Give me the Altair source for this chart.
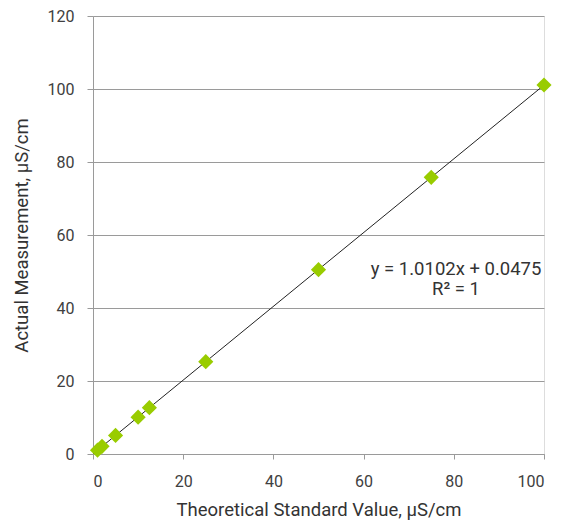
import altair as alt
import pandas as pd

theoretical = [1, 2, 5, 10, 12.5, 25, 50, 75, 100]
actual = [1.05, 2.1, 5.1, 10.1, 12.7, 25.3, 50.5, 75.8, 101.1]
eq_lines = ["y = 1.0102x + 0.0475", "R² = 1"]
eq_x = [80.5, 80.5]
eq_y = [50.7, 45.3]

df = pd.DataFrame({"x": theoretical, "y": actual})
ann = pd.DataFrame({"x": eq_x, "y": eq_y, "t": eq_lines})

FONT = "Roboto"
GRAY = "#9a9a9a"

xs = alt.Scale(domain=[0, 100], nice=False)
ys = alt.Scale(domain=[0, 120], nice=False)

xaxis = alt.Axis(values=[0, 20, 40, 60, 80, 100], grid=False, domainColor=GRAY,
                 tickColor=GRAY, tickSize=5, labelFontSize=16, labelColor="#404040",
                 labelFont=FONT, titleFont=FONT, titleFontSize=18.5, titleFontWeight="normal",
                 titleColor="#333333", titlePadding=11, labelPadding=14)
yaxis = alt.Axis(values=[0, 20, 40, 60, 80, 100, 120], grid=True, gridColor=GRAY,
                 domainColor=GRAY, tickColor=GRAY, tickSize=6, labelFontSize=16,
                 labelColor="#404040", labelFont=FONT, titleFont=FONT, titleFontSize=18.5,
                 titleFontWeight="normal", titleColor="#333333", titlePadding=16, labelPadding=13)

trend = alt.Chart(df).transform_regression("x", "y", extent=[0, 100]).mark_line(
    color="#222222", strokeWidth=1
).encode(
    x=alt.X("x:Q", scale=xs, axis=xaxis, title="Theoretical Standard Value, µS/cm"),
    y=alt.Y("y:Q", scale=ys, axis=yaxis, title="Actual Measurement, µS/cm"),
)

pts = alt.Chart(df).mark_point(shape="diamond", filled=True, color="#99cc00",
                               opacity=1, size=230).encode(
    x=alt.X("x:Q", scale=xs),
    y=alt.Y("y:Q", scale=ys),
)

txt = alt.Chart(ann).mark_text(font=FONT, fontSize=18.5, color="#333333").encode(
    x=alt.X("x:Q", scale=xs),
    y=alt.Y("y:Q", scale=ys),
    text="t:N",
)

chart = alt.layer(trend, pts, txt).properties(
    width=451, height=438,
    autosize=alt.AutoSizeParams(type="none"),
    padding={"left": 85, "top": 8, "right": 20, "bottom": 70},
).configure_view(stroke=None).configure(background="white")

chart.save("out.html", embed_options={"renderer": "svg", "actions": False})
